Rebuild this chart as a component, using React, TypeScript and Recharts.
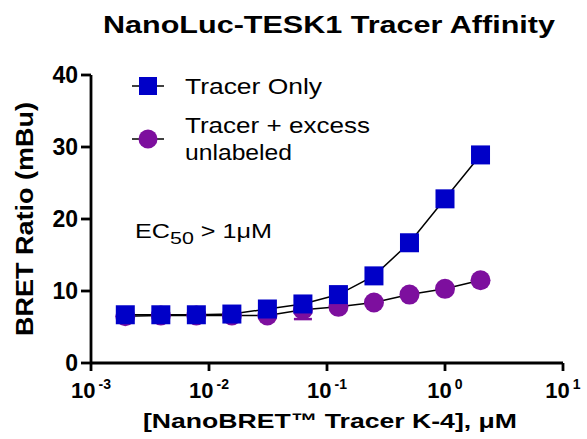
import { ErrorBar, Legend, Line, LineChart, XAxis, YAxis } from "recharts";

const FONT = "'Liberation Sans', Arial, sans-serif";

// tracer concentration, µM (2-fold dilution series)
const conc = [2, 1, 0.5, 0.25, 0.125, 0.0625, 0.03125, 0.015625, 0.0078125, 0.00390625, 0.001953125];
const tracerOnly = [28.9, 22.8, 16.7, 12.1, 9.5, 8.2, 7.5, 6.8, 6.7, 6.7, 6.7];
const tracerExcess = [11.5, 10.3, 9.5, 8.4, 7.8, 7.4, 6.6, 6.6, 6.6, 6.6, 6.5];
const tracerExcessErr = [0, 0, 0, 0, 0, 1.3, 0, 0, 0, 0, 0];

const xTicks = [0.001, 0.01, 0.1, 1, 10];
const yTicks = [0, 10, 20, 30, 40];

const BLUE = "#0000c8";
const PURPLE = "#7d0f9e";

const data = conc.map((c, i) => ({
  conc: c,
  only: tracerOnly[i],
  excess: tracerExcess[i],
  excessErr: tracerExcessErr[i],
}));

function LogTick({ x, y, payload }: any) {
  const exp = Math.round(Math.log10(payload.value));
  return (
    <text x={x} y={y} dy={25} textAnchor="middle" fill="#000" fontFamily={FONT} fontWeight={700} fontSize={22}>
      <tspan>10</tspan>
      <tspan dx={3} dy={-9} fontSize={14}>
        {String(exp)}
      </tspan>
    </text>
  );
}

function SquareDot({ cx, cy, index }: any) {
  return <rect key={`sq-${index}`} x={cx - 9.5} y={cy - 9.5} width={19} height={19} fill={BLUE} />;
}

function CircleDot({ cx, cy, index }: any) {
  return <circle key={`ci-${index}`} cx={cx} cy={cy} r={10} fill={PURPLE} />;
}

function LegendBox() {
  return (
    <svg width={270} height={105} style={{ display: "block" }}>
      <line x1={12} y1={21} x2={44} y2={21} stroke="#000" strokeWidth={1.5} />
      <rect x={19} y={12} width={18} height={18} fill={BLUE} />
      <text x={65} y={29} fontFamily={FONT} fontSize={22} textLength={137} lengthAdjust="spacingAndGlyphs">
        Tracer Only
      </text>
      <line x1={12} y1={74} x2={44} y2={74} stroke="#000" strokeWidth={1.5} />
      <circle cx={28} cy={74} r={9.5} fill={PURPLE} />
      <text x={65} y={68} fontFamily={FONT} fontSize={22} textLength={185} lengthAdjust="spacingAndGlyphs">
        Tracer + excess
      </text>
      <text x={65} y={95} fontFamily={FONT} fontSize={22} textLength={107} lengthAdjust="spacingAndGlyphs">
        unlabeled
      </text>
    </svg>
  );
}

export default function App() {
  return (
    <div style={{ position: "absolute", left: 0, top: 0, width: 587, height: 439, background: "#fff" }}>
      <LineChart width={587} height={439} data={data} margin={{ top: 75, right: 24, bottom: 0, left: 0 }}>
        <XAxis
          dataKey="conc"
          type="number"
          scale="log"
          domain={[0.001, 10]}
          ticks={xTicks}
          allowDataOverflow
          height={76}
          tickSize={8}
          axisLine={{ stroke: "#000", strokeWidth: 2.8 }}
          tickLine={{ stroke: "#000", strokeWidth: 2.8 }}
          tick={LogTick}
          label={{
            content: ({ viewBox }: any) => (
              <text
                x={143}
                y={viewBox.y + 65}
                fontFamily={FONT}
                fontWeight={700}
                fontSize={21}
                fill="#000"
                textLength={374}
                lengthAdjust="spacingAndGlyphs"
              >
                [NanoBRET™ Tracer K-4], μM
              </text>
            ),
          }}
        />
        <YAxis
          type="number"
          domain={[0, 40]}
          ticks={yTicks}
          width={91}
          tickSize={10}
          tickMargin={3}
          axisLine={{ stroke: "#000", strokeWidth: 2.8 }}
          tickLine={{ stroke: "#000", strokeWidth: 2.8 }}
          tick={{ fill: "#000", fontSize: 23, fontWeight: 700, fontFamily: FONT }}
          label={{
            content: ({ viewBox }: any) => {
              const cy = viewBox.y + viewBox.height / 2;
              return (
                <text
                  x={33}
                  y={cy}
                  transform={`rotate(-90 33 ${cy})`}
                  textAnchor="middle"
                  fontFamily={FONT}
                  fontWeight={700}
                  fontSize={23}
                  fill="#000"
                  textLength={234}
                  lengthAdjust="spacingAndGlyphs"
                >
                  BRET Ratio (mBu)
                </text>
              );
            },
          }}
        />
        <Legend
          layout="horizontal"
          verticalAlign="middle"
          align="center"
          content={() => <LegendBox />}
          wrapperStyle={{ left: 120, top: 65, width: 270, height: 105 }}
        />
        <Line
          dataKey="excess"
          name="Tracer + excess unlabeled"
          stroke="#000"
          strokeWidth={1.5}
          dot={CircleDot}
          activeDot={false}
          isAnimationActive={false}
        >
          <ErrorBar dataKey="excessErr" direction="y" width={9} stroke={PURPLE} strokeWidth={2.5} />
        </Line>
        <Line
          dataKey="only"
          name="Tracer Only"
          stroke="#000"
          strokeWidth={1.5}
          dot={SquareDot}
          activeDot={false}
          isAnimationActive={false}
        />
      </LineChart>
      <svg width={587} height={439} style={{ position: "absolute", left: 0, top: 0, pointerEvents: "none" }}>
        <text
          x={103}
          y={33}
          fontFamily={FONT}
          fontWeight={700}
          fontSize={24}
          fill="#000"
          textLength={452}
          lengthAdjust="spacingAndGlyphs"
        >
          NanoLuc-TESK1 Tracer Affinity
        </text>
        <text x={135} y={238} fontFamily={FONT} fontSize={20} fill="#000" textLength={137} lengthAdjust="spacingAndGlyphs">
          EC
          <tspan dy={6} fontSize={17}>50</tspan>
          <tspan dy={-6}> &gt; 1μM</tspan>
        </text>
      </svg>
    </div>
  );
}
